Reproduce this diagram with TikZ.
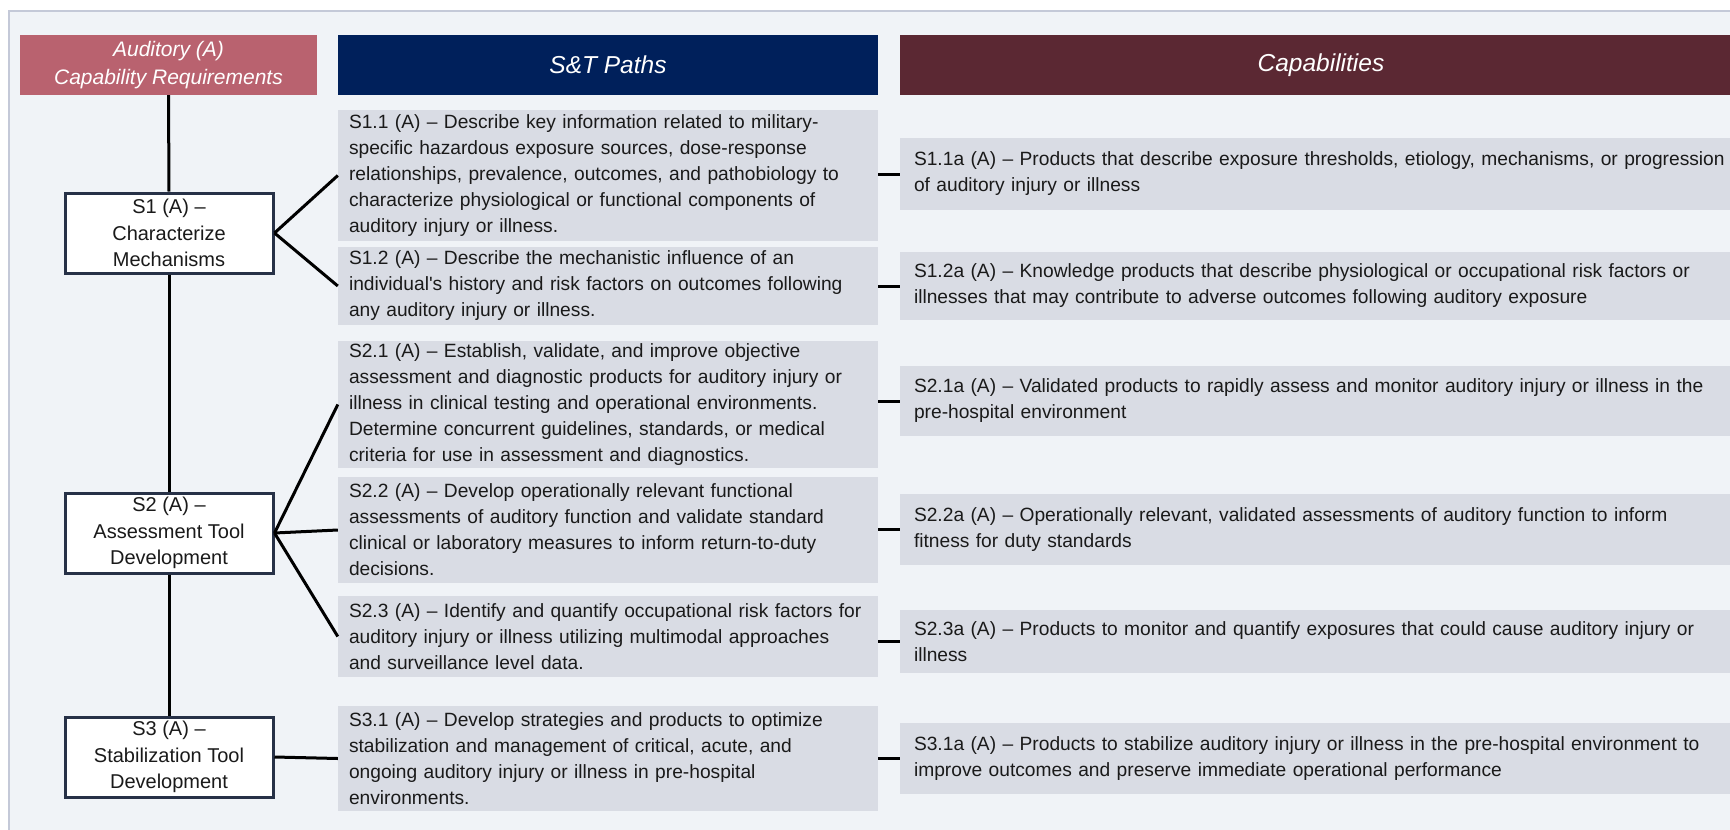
\documentclass[tikz,border=0pt]{standalone}
\usepackage{fontspec}
\setmainfont{Liberation Sans}
\usetikzlibrary{calc}
\definecolor{bgc}{HTML}{F0F3F7}
\definecolor{framec}{HTML}{C4C9D8}
\definecolor{boxc}{HTML}{D9DCE4}
\definecolor{pinkc}{HTML}{B9626F}
\definecolor{navyc}{HTML}{00205B}
\definecolor{maroonc}{HTML}{5B2833}
\definecolor{edgec}{HTML}{273147}
\definecolor{txtc}{HTML}{1A1A1A}
\begin{document}
\begin{tikzpicture}[x=1pt,y=-1pt,
  hdr/.style={minimum height=60pt, inner sep=0pt, text=white, align=center,
    font=\itshape\fontsize{24.5}{28}\selectfont},
  pathbox/.style={fill=boxc, minimum width=540pt, inner xsep=11pt, inner ysep=0pt,
    text width=518pt, align=left, text=txtc, font=\fontsize{19.2}{26}\selectfont},
  capbox/.style={fill=boxc, minimum width=842pt, inner xsep=14pt, inner ysep=0pt,
    text width=814pt, align=left, text=txtc, font=\fontsize{19.2}{26}\selectfont},
  reqbox/.style={fill=white, draw=edgec, line width=3pt, minimum width=208pt, minimum height=80pt,
    inner sep=0pt, align=center, text=txtc, font=\fontsize{20}{26.5}\selectfont},
  conn/.style={black, line width=3pt}
]
\useasboundingbox (0,0) rectangle (1730,830);
\fill[white] (0,0) rectangle (1730,830);
\draw[framec, line width=2pt, fill=bgc] (9,11) rectangle (1750,850);

% headers
\node[hdr, fill=pinkc, minimum width=297pt, font=\itshape\fontsize{21}{28.5}\selectfont] (hA) at (168.5,65) {Auditory (A)\\Capability Requirements};
\node[hdr, fill=navyc, minimum width=540pt] (hB) at (608,65) {S\&T Paths};
\node[hdr, fill=maroonc, minimum width=842pt] (hC) at (1321,65) {Capabilities};

% requirement boxes
\node[reqbox] (S1) at (169,233) {S1 (A) –\\Characterize\\Mechanisms};
\node[reqbox] (S2) at (169,533) {S2 (A) –\\Assessment Tool\\Development};
\node[reqbox] (S3) at (169,757) {S3 (A) –\\Stabilization Tool\\Development};

% S&T paths
\node[pathbox, minimum height=131pt] (P11) at (608,175.5) {S1.1 (A) – Describe key information related to military-\\specific hazardous exposure sources, dose-response\\relationships, prevalence, outcomes, and pathobiology to\\characterize physiological or functional components of\\auditory injury or illness.};
\node[pathbox, minimum height=78pt] (P12) at (608,286) {S1.2 (A) – Describe the mechanistic influence of an\\individual\textquotesingle s history and risk factors on outcomes following\\any auditory injury or illness.};
\node[pathbox, minimum height=127pt] (P21) at (608,404.5) {S2.1 (A) – Establish, validate, and improve objective\\assessment and diagnostic products for auditory injury or\\illness in clinical testing and operational environments.\\Determine concurrent guidelines, standards, or medical\\criteria for use in assessment and diagnostics.};
\node[pathbox, minimum height=106pt] (P22) at (608,530) {S2.2 (A) – Develop operationally relevant functional\\assessments of auditory function and validate standard\\clinical or laboratory measures to inform return-to-duty\\decisions.};
\node[pathbox, minimum height=81pt] (P23) at (608,636.5) {S2.3 (A) – Identify and quantify occupational risk factors for\\auditory injury or illness utilizing multimodal approaches\\and surveillance level data.};
\node[pathbox, minimum height=105pt] (P31) at (608,758.5) {S3.1 (A) – Develop strategies and products to optimize\\stabilization and management of critical, acute, and\\ongoing auditory injury or illness in pre-hospital\\environments.};

% capabilities
\node[capbox, minimum height=72pt] (C11) at (1321,174) {S1.1a (A) – Products that describe exposure thresholds, etiology, mechanisms, or progression\\of auditory injury or illness};
\node[capbox, minimum height=68pt] (C12) at (1321,286) {S1.2a (A) – Knowledge products that describe physiological or occupational risk factors or\\illnesses that may contribute to adverse outcomes following auditory exposure};
\node[capbox, minimum height=70pt] (C21) at (1321,401) {S2.1a (A) – Validated products to rapidly assess and monitor auditory injury or illness in the\\pre-hospital environment};
\node[capbox, minimum height=71pt] (C22) at (1321,529.5) {S2.2a (A) – Operationally relevant, validated assessments of auditory function to inform\\fitness for duty standards};
\node[capbox, minimum height=63pt] (C23) at (1321,641.5) {S2.3a (A) – Products to monitor and quantify exposures that could cause auditory injury or\\illness};
\node[capbox, minimum height=71pt] (C31) at (1321,758.5) {S3.1a (A) – Products to stabilize auditory injury or illness in the pre-hospital environment to\\improve outcomes and preserve immediate operational performance};

% spine
\draw[conn] (hA.south) -- (S1.north);
\draw[conn] (S1.south) -- (S2.north);
\draw[conn] (S2.south) -- (S3.north);

% requirement -> paths
\draw[conn] (S1.east) -- (P11.west);
\draw[conn] (S1.east) -- (P12.west);
\draw[conn] (S2.east) -- (P21.west);
\draw[conn] (S2.east) -- (P22.west);
\draw[conn] (S2.east) -- (P23.west);
\draw[conn] (S3.east) -- (P31.west);

% paths -> capabilities
\foreach \p/\c in {P11/C11,P12/C12,P21/C21,P22/C22,P23/C23,P31/C31}
  \draw[conn] (\p.east |- \c.west) -- (\c.west);
\end{tikzpicture}
\end{document}
